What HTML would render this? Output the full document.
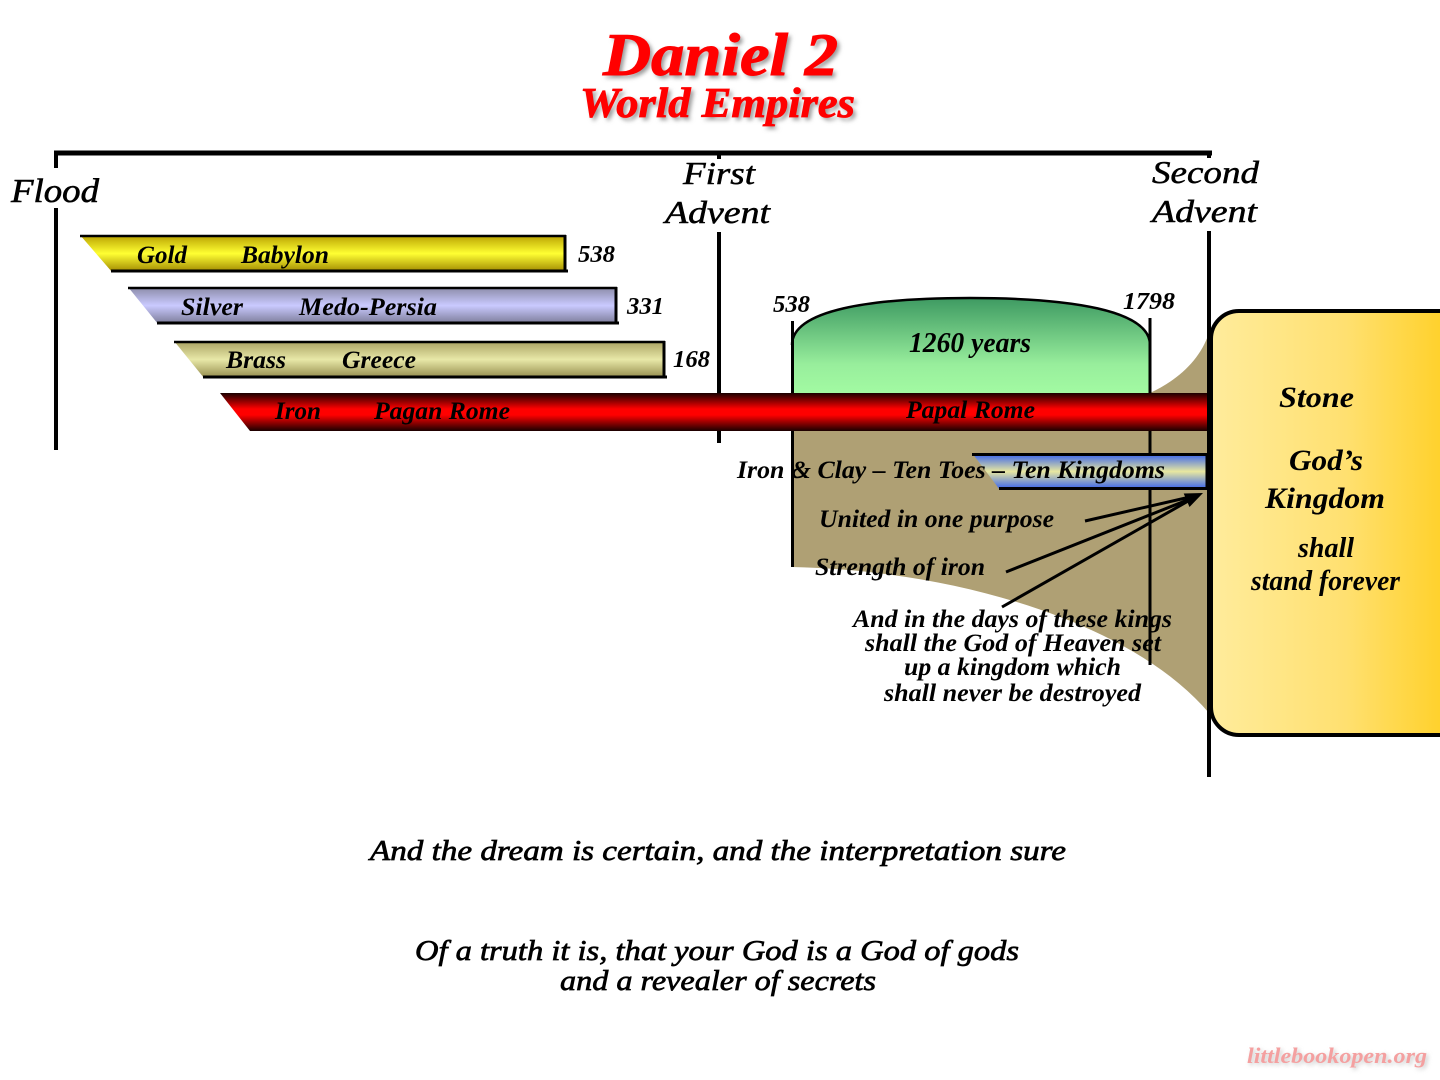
<!DOCTYPE html>
<html>
<head>
<meta charset="utf-8">
<style>
html,body{margin:0;padding:0;background:#fff;}
svg{display:block;}
text{font-family:"Liberation Serif",serif;}
.bi{font-style:italic;font-weight:bold;}
.it{font-style:italic;font-weight:normal;}
</style>
</head>
<body>
<svg width="1440" height="1080" viewBox="0 0 1440 1080" xmlns="http://www.w3.org/2000/svg">
<defs>
  <linearGradient id="gGold" x1="0" y1="0" x2="0" y2="1">
    <stop offset="0" stop-color="#B8A000"/>
    <stop offset="0.5" stop-color="#FFFF33"/>
    <stop offset="1" stop-color="#A08800"/>
  </linearGradient>
  <linearGradient id="gSilver" x1="0" y1="0" x2="0" y2="1">
    <stop offset="0" stop-color="#8A8AA6"/>
    <stop offset="0.5" stop-color="#CACAFF"/>
    <stop offset="1" stop-color="#7A7A96"/>
  </linearGradient>
  <linearGradient id="gBrass" x1="0" y1="0" x2="0" y2="1">
    <stop offset="0" stop-color="#A8A060"/>
    <stop offset="0.5" stop-color="#E8E8A8"/>
    <stop offset="1" stop-color="#948C4C"/>
  </linearGradient>
  <linearGradient id="gRed" x1="0" y1="0" x2="0" y2="1">
    <stop offset="0" stop-color="#1A0000"/>
    <stop offset="0.42" stop-color="#FF0000"/>
    <stop offset="0.58" stop-color="#FF0000"/>
    <stop offset="1" stop-color="#1A0000"/>
  </linearGradient>
  <linearGradient id="gBlue" x1="0" y1="0" x2="0" y2="1">
    <stop offset="0" stop-color="#2F5CF0"/>
    <stop offset="0.5" stop-color="#E8E8A0"/>
    <stop offset="1" stop-color="#2F5CF0"/>
  </linearGradient>
  <linearGradient id="gGreen" x1="0" y1="0" x2="0" y2="1">
    <stop offset="0" stop-color="#3E9A62"/>
    <stop offset="0.7" stop-color="#98EE9C"/>
    <stop offset="1" stop-color="#A2FAA2"/>
  </linearGradient>
  <linearGradient id="gStone" x1="0" y1="0" x2="1" y2="0">
    <stop offset="0" stop-color="#FFEC9C"/>
    <stop offset="0.5" stop-color="#FFE070"/>
    <stop offset="1" stop-color="#FFCB10"/>
  </linearGradient>
  <filter id="blur" x="-10%" y="-20%" width="120%" height="140%">
    <feGaussianBlur stdDeviation="2"/>
  </filter>
</defs>

<!-- Title -->
<g filter="url(#blur)" fill="#999">
  <text class="bi" x="606" y="78" font-size="60" textLength="235" lengthAdjust="spacingAndGlyphs">Daniel 2</text>
  <text class="bi" x="583" y="120" font-size="42" textLength="275" lengthAdjust="spacingAndGlyphs">World Empires</text>
</g>
<text class="bi" x="603" y="75" font-size="60" fill="#FF0000" stroke="#FF0000" stroke-width="1" textLength="235" lengthAdjust="spacingAndGlyphs">Daniel 2</text>
<text class="bi" x="580" y="117" font-size="42" fill="#FF0000" stroke="#FF0000" stroke-width="0.8" textLength="275" lengthAdjust="spacingAndGlyphs">World Empires</text>

<!-- Top bracket -->
<line x1="54" y1="153" x2="1212" y2="153" stroke="#000" stroke-width="5"/>
<line x1="56" y1="151" x2="56" y2="168" stroke="#000" stroke-width="4"/>
<line x1="56" y1="208" x2="56" y2="450" stroke="#000" stroke-width="4"/>
<line x1="719" y1="153" x2="719" y2="159" stroke="#000" stroke-width="4"/>
<line x1="1209" y1="153" x2="1209" y2="158" stroke="#000" stroke-width="4"/>

<text class="it" x="11" y="202" font-size="34" fill="#000" stroke="#000" stroke-width="0.6" textLength="88" lengthAdjust="spacingAndGlyphs">Flood</text>
<text class="it" x="683" y="184" font-size="32" fill="#000" stroke="#000" stroke-width="0.5" textLength="72" lengthAdjust="spacingAndGlyphs">First</text>
<text class="it" x="665" y="223" font-size="32" fill="#000" stroke="#000" stroke-width="0.5" textLength="105" lengthAdjust="spacingAndGlyphs">Advent</text>
<text class="it" x="1152" y="183" font-size="32" fill="#000" stroke="#000" stroke-width="0.5" textLength="107" lengthAdjust="spacingAndGlyphs">Second</text>
<text class="it" x="1152" y="222" font-size="32" fill="#000" stroke="#000" stroke-width="0.5" textLength="105" lengthAdjust="spacingAndGlyphs">Advent</text>

<!-- First advent line -->
<line x1="719" y1="232" x2="719" y2="443" stroke="#000" stroke-width="4"/>

<!-- Brown region -->
<path d="M792,431 H1209 V713 C1130,620 950,570 792,567 Z" fill="#AFA074"/>
<path d="M1150,393 C1178,380 1200,360 1209,333 L1209,393 Z" fill="#AFA074"/>

<!-- Green dome -->
<path d="M792,393 V345 C792,310 870,298 970,298 C1070,298 1150,310 1150,345 V393 Z" fill="url(#gGreen)"/>
<path d="M792,345 C792,310 870,298 970,298 C1070,298 1150,310 1150,345" fill="none" stroke="#000" stroke-width="2.5"/>
<line x1="792.5" y1="321" x2="792.5" y2="567" stroke="#000" stroke-width="3"/>
<line x1="1150" y1="318" x2="1150" y2="665" stroke="#000" stroke-width="3"/>

<text class="bi" x="773" y="312" font-size="24" textLength="37" lengthAdjust="spacingAndGlyphs">538</text>
<text class="bi" x="1123" y="309" font-size="24" textLength="52" lengthAdjust="spacingAndGlyphs">1798</text>
<text class="bi" x="909" y="352" font-size="28" textLength="122" lengthAdjust="spacingAndGlyphs">1260 years</text>

<!-- Gold bar -->
<polygon points="80,235 566,235 566,272 112,272" fill="url(#gGold)"/>
<line x1="80" y1="236" x2="566" y2="236" stroke="#000" stroke-width="2.5"/>
<line x1="111" y1="271" x2="568" y2="271" stroke="#000" stroke-width="3"/>
<line x1="565" y1="235" x2="565" y2="272" stroke="#000" stroke-width="3"/>
<text class="bi" x="137" y="263" font-size="25" textLength="50" lengthAdjust="spacingAndGlyphs">Gold</text>
<text class="bi" x="241" y="263" font-size="25" textLength="88" lengthAdjust="spacingAndGlyphs">Babylon</text>
<text class="bi" x="578" y="262" font-size="24" textLength="37" lengthAdjust="spacingAndGlyphs">538</text>

<!-- Silver bar -->
<polygon points="128,287 617,287 617,324 158,324" fill="url(#gSilver)"/>
<line x1="128" y1="288" x2="617" y2="288" stroke="#000" stroke-width="2.5"/>
<line x1="157" y1="323" x2="619" y2="323" stroke="#000" stroke-width="3"/>
<line x1="616" y1="287" x2="616" y2="324" stroke="#000" stroke-width="3"/>
<text class="bi" x="181" y="315" font-size="25" textLength="62" lengthAdjust="spacingAndGlyphs">Silver</text>
<text class="bi" x="299" y="315" font-size="25" textLength="138" lengthAdjust="spacingAndGlyphs">Medo-Persia</text>
<text class="bi" x="627" y="314" font-size="24" textLength="37" lengthAdjust="spacingAndGlyphs">331</text>

<!-- Brass bar -->
<polygon points="174,341 665,341 665,378 204,378" fill="url(#gBrass)"/>
<line x1="174" y1="342" x2="665" y2="342" stroke="#000" stroke-width="2.5"/>
<line x1="203" y1="377" x2="667" y2="377" stroke="#000" stroke-width="3"/>
<line x1="664" y1="341" x2="664" y2="378" stroke="#000" stroke-width="3"/>
<text class="bi" x="226" y="368" font-size="25" textLength="60" lengthAdjust="spacingAndGlyphs">Brass</text>
<text class="bi" x="342" y="368" font-size="25" textLength="74" lengthAdjust="spacingAndGlyphs">Greece</text>
<text class="bi" x="673" y="367" font-size="24" textLength="37" lengthAdjust="spacingAndGlyphs">168</text>

<!-- Red bar -->
<polygon points="220,393 1209,393 1209,431 250,431" fill="url(#gRed)"/>
<text class="bi" x="275" y="419" font-size="25" textLength="46" lengthAdjust="spacingAndGlyphs">Iron</text>
<text class="bi" x="374" y="419" font-size="25" textLength="136" lengthAdjust="spacingAndGlyphs">Pagan Rome</text>
<text class="bi" x="906" y="418" font-size="25" textLength="129" lengthAdjust="spacingAndGlyphs">Papal Rome</text>

<!-- Blue bar -->
<polygon points="972,453 1208,453 1208,490 1000,490" fill="url(#gBlue)"/>
<line x1="972" y1="454.5" x2="1208" y2="454.5" stroke="#000" stroke-width="3"/>
<line x1="999" y1="488.5" x2="1208" y2="488.5" stroke="#000" stroke-width="3"/>
<line x1="1207" y1="453" x2="1207" y2="490" stroke="#000" stroke-width="3"/>
<text class="bi" x="737" y="478" font-size="25" textLength="428" lengthAdjust="spacingAndGlyphs">Iron &amp; Clay – Ten Toes – Ten Kingdoms</text>

<text class="bi" x="819" y="527" font-size="25" textLength="235" lengthAdjust="spacingAndGlyphs">United in one purpose</text>
<text class="bi" x="815" y="575" font-size="25" textLength="170" lengthAdjust="spacingAndGlyphs">Strength of iron</text>

<!-- Arrows -->
<g stroke="#000" stroke-width="3" fill="none">
  <line x1="1085" y1="521" x2="1190" y2="497"/>
  <line x1="1006" y1="572" x2="1190" y2="499"/>
  <line x1="1002" y1="607" x2="1190" y2="500"/>
</g>
<polygon points="1203,493 1189.5,507 1183.7,493.5" fill="#000"/>

<text class="bi" x="853" y="627" font-size="25" textLength="319" lengthAdjust="spacingAndGlyphs">And in the days of these kings</text>
<text class="bi" x="865" y="651" font-size="25" textLength="296" lengthAdjust="spacingAndGlyphs">shall the God of Heaven set</text>
<text class="bi" x="904" y="675" font-size="25" textLength="217" lengthAdjust="spacingAndGlyphs">up a kingdom which</text>
<text class="bi" x="884" y="701" font-size="25" textLength="257" lengthAdjust="spacingAndGlyphs">shall never be destroyed</text>

<!-- Second advent line -->
<line x1="1209" y1="231" x2="1209" y2="777" stroke="#000" stroke-width="4"/>

<!-- Stone box -->
<rect x="1211" y="311" width="270" height="424" rx="28" ry="28" fill="url(#gStone)" stroke="#000" stroke-width="4"/>
<text class="bi" x="1279" y="407" font-size="30" textLength="75" lengthAdjust="spacingAndGlyphs">Stone</text>
<text class="bi" x="1289" y="470" font-size="30" textLength="74" lengthAdjust="spacingAndGlyphs">God’s</text>
<text class="bi" x="1265" y="508" font-size="30" textLength="120" lengthAdjust="spacingAndGlyphs">Kingdom</text>
<text class="bi" x="1298" y="557" font-size="28" textLength="56" lengthAdjust="spacingAndGlyphs">shall</text>
<text class="bi" x="1251" y="590" font-size="28" textLength="149" lengthAdjust="spacingAndGlyphs">stand forever</text>

<!-- Bottom quotes -->
<text class="it" x="370" y="860" font-size="29" fill="#000" stroke="#000" stroke-width="0.7" textLength="696" lengthAdjust="spacingAndGlyphs">And the dream is certain, and the interpretation sure</text>
<text class="it" x="415" y="960" font-size="29" fill="#000" stroke="#000" stroke-width="0.7" textLength="604" lengthAdjust="spacingAndGlyphs">Of a truth it is, that your God is a God of gods</text>
<text class="it" x="560" y="990" font-size="29" fill="#000" stroke="#000" stroke-width="0.7" textLength="316" lengthAdjust="spacingAndGlyphs">and a revealer of secrets</text>

<!-- Watermark -->
<text class="bi" x="1249" y="1065" font-size="22" fill="#ccc" filter="url(#blur)" textLength="180" lengthAdjust="spacingAndGlyphs">littlebookopen.org</text>
<text class="bi" x="1247" y="1063" font-size="22" fill="#F4A0A0" textLength="180" lengthAdjust="spacingAndGlyphs">littlebookopen.org</text>
</svg>
</body>
</html>
